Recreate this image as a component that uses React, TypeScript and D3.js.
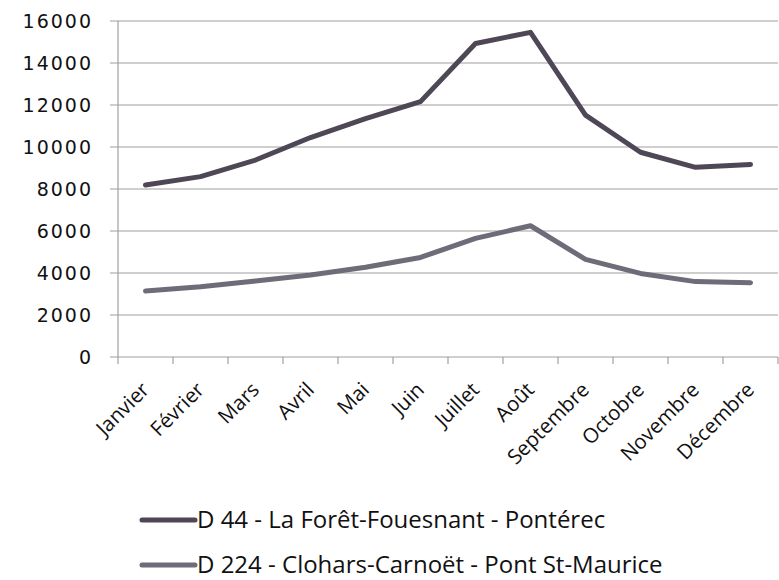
import React from "react";
import * as d3 from "d3";

const months = [
  "Janvier", "Février", "Mars", "Avril", "Mai", "Juin",
  "Juillet", "Août", "Septembre", "Octobre", "Novembre", "Décembre",
];

const d44 = [8190, 8590, 9380, 10450, 11350, 12160, 14930, 15460, 11520, 9750, 9030, 9170];
const d224 = [3140, 3350, 3620, 3900, 4270, 4740, 5650, 6250, 4650, 3980, 3590, 3540];

const yTicks = [0, 2000, 4000, 6000, 8000, 10000, 12000, 14000, 16000];

const seriesNames = [
  "D 44 - La Forêt-Fouesnant - Pontérec",
  "D 224 - Clohars-Carnoët - Pont St-Maurice",
];
const seriesColors = ["#4e4756", "#6f6b79"];

export default function App() {
  const width = 779;
  const height = 580;
  const left = 118;
  const right = 778;
  const top = 21;
  const bottom = 357;

  const x = d3.scaleBand<string>().domain(months).range([left, right]);
  const y = d3.scaleLinear().domain([0, 16000]).range([bottom, top]);

  const line = d3
    .line<number>()
    .x((_, i) => (x(months[i]) as number) + x.bandwidth() / 2)
    .y(d => y(d));

  const series = [d44, d224];
  const font = "'Open Sans', 'DejaVu Sans', sans-serif";

  return (
    <svg
      width={width}
      height={height}
      style={{ position: "absolute", left: 0, top: 0, background: "#fff" }}
    >
      {/* gridlines */}
      {yTicks.map(t => (
        <g key={t}>
          <line x1={left - 8} x2={right} y1={y(t)} y2={y(t)} stroke="#a0a0a0" strokeWidth={1.2} />
          <text
            x={93}
            y={y(t) + 7}
            textAnchor="end"
            fontSize={19}
            letterSpacing={2}
            fontFamily="'DejaVu Sans', sans-serif"
            fill="#111"
          >
            {t}
          </text>
        </g>
      ))}

      {/* axes */}
      <line x1={left} x2={left} y1={top} y2={bottom} stroke="#a0a0a0" strokeWidth={1.2} />
      {months.map((m, i) => (
        <line
          key={"t" + m}
          x1={left + i * x.step()}
          x2={left + i * x.step()}
          y1={bottom}
          y2={bottom + 7}
          stroke="#a0a0a0"
          strokeWidth={1.2}
        />
      ))}
      <line x1={right} x2={right} y1={bottom} y2={bottom + 7} stroke="#a0a0a0" strokeWidth={1.2} />

      {months.map(m => {
        const cx = (x(m) as number) + x.bandwidth() / 2;
        return (
          <text
            key={m}
            transform={`translate(${cx + 5},${bottom + 34}) rotate(-45)`}
            textAnchor="end"
            fontSize={20.5}
            fontFamily={font}
            fill="#111"
          >
            {m}
          </text>
        );
      })}

      {/* lines */}
      {series.map((s, i) => (
        <path
          key={i}
          d={line(s) ?? ""}
          fill="none"
          stroke={seriesColors[i]}
          strokeWidth={5}
          strokeLinejoin="round"
          strokeLinecap="round"
        />
      ))}

      {/* legend */}
      {seriesNames.map((name, i) => (
        <g key={name} transform={`translate(0,${520 + i * 45})`}>
          <line x1={142} x2={195} y1={0} y2={0} stroke={seriesColors[i]} strokeWidth={5} strokeLinecap="round" />
          <text x={197} y={8} fontSize={24} fontFamily={font} fill="#111">
            {name}
          </text>
        </g>
      ))}
    </svg>
  );
}
